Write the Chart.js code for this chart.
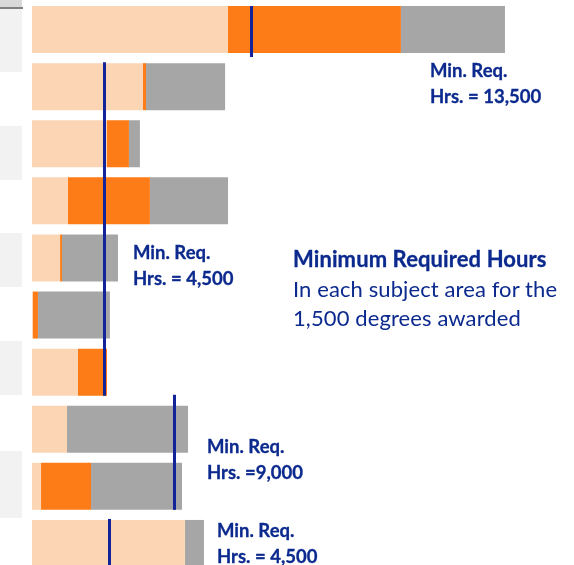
<!DOCTYPE html>
<html>
<head>
<meta charset="utf-8">
<script src="https://cdn.jsdelivr.net/npm/chart.js@4.4.1/dist/chart.umd.min.js"></script>
<style>
  body { margin: 0; width: 574px; height: 565px; overflow: hidden; position: relative; background: #fff; font-family: Lato, sans-serif; }
  #wrap { position: absolute; left: 0; top: 0; }
  .side { position: absolute; left: 0; width: 22px; background: #f2f2f2; }
  .note { position: absolute; color: #0c2a8e; font-weight: bold; font-size: 18.5px; line-height: 26px; white-space: nowrap; -webkit-text-stroke: 0.3px #0c2a8e; }
  .big { position: absolute; left: 293px; top: 244px; color: #0c2a8e; font-size: 22px; line-height: 29.5px; white-space: nowrap; letter-spacing: 0.1px; }
  .big b { font-weight: bold; -webkit-text-stroke: 0.3px #0c2a8e; }
</style>
</head>
<body>
<!-- cut-off table on the left -->
<div class="side" style="top:0;height:72px"></div>
<div class="side" style="top:0;height:7px;background:#d9d9d9"></div>
<div class="side" style="top:7px;height:2px;background:#808080;width:23px"></div>
<div class="side" style="top:126px;height:54px"></div>
<div class="side" style="top:233px;height:54px"></div>
<div class="side" style="top:341px;height:54px"></div>
<div class="side" style="top:451px;height:67px"></div>

<div id="wrap"><canvas id="c" width="574" height="572"></canvas></div>

<div class="note" style="left:430px;top:57px">Min. Req.<br>Hrs. = 13,500</div>
<div class="note" style="left:133px;top:239px">Min. Req.<br>Hrs. = 4,500</div>
<div class="note" style="left:207px;top:433px">Min. Req.<br>Hrs. =9,000</div>
<div class="note" style="left:217px;top:517px">Min. Req.<br>Hrs. = 4,500</div>
<div class="big"><b>Minimum Required Hours</b><br>In each subject area for the<br>1,500 degrees awarded</div>

<script>
// subject areas (names are cut off in the picture)
var subjects = ['Area 1', 'Area 2', 'Area 3', 'Area 4', 'Area 5', 'Area 6', 'Area 7', 'Area 8', 'Area 9', 'Area 10'];

// hours per subject, three parts of each bar
var partA = [12150, 6880, 4650, 2230, 1740, 60, 2850, 2170, 560, 9480];
var partB = [10720, 190, 1360, 5080, 120, 310, 1800, 0, 3100, 0];
var partC = [6450, 4900, 680, 4840, 3470, 4460, 0, 7500, 5640, 1180];

// minimum required hours, one line per group of bars
var minReqHours = [13600, 4480, 8800, 4790];
var minReqFirst = [0, 1, 7, 9];
var minReqLast = [0, 6, 8, 9];

// how far each line sticks out above / below its bars (px)
var overhang = [[0, 4], [1, 0], [11, 0], [1, 0]];

var minReqPlugin = {
    id: 'minReq',
    afterDatasetsDraw: function (chart) {
        var ctx = chart.ctx;
        var xs = chart.scales.x;
        var bars = chart.getDatasetMeta(0).data;
        ctx.save();
        ctx.strokeStyle = '#13239a';
        ctx.lineWidth = 3;
        for (var i = 0; i < minReqHours.length; i++) {
            var first = bars[minReqFirst[i]];
            var last = bars[minReqLast[i]];
            var px = Math.round(xs.getPixelForValue(minReqHours[i])) + 0.5;
            var top = first.y - first.height / 2 - overhang[i][0];
            var bottom = last.y + last.height / 2 + overhang[i][1];
            ctx.beginPath();
            ctx.moveTo(px, top);
            ctx.lineTo(px, bottom);
            ctx.stroke();
        }
        ctx.restore();
    }
};

var ctx = document.getElementById('c').getContext('2d');
var chart = new Chart(ctx, {
    type: 'bar',
    data: {
        labels: subjects,
        datasets: [
            { label: 'Part A', data: partA, backgroundColor: '#fcd5b5' },
            { label: 'Part B', data: partB, backgroundColor: '#fe7c17' },
            { label: 'Part C', data: partC, backgroundColor: '#a6a6a6' }
        ]
    },
    options: {
        indexAxis: 'y',
        responsive: false,
        animation: false,
        layout: { padding: { left: 32, top: 1, right: 0, bottom: 0 } },
        datasets: { bar: { categoryPercentage: 1, barPercentage: 0.823, borderWidth: 0 } },
        scales: {
            x: { stacked: true, min: 0, max: 33600, display: false },
            y: { stacked: true, display: false }
        },
        plugins: { legend: { display: false }, tooltip: { enabled: false } }
    },
    plugins: [minReqPlugin]
});
</script>
</body>
</html>
